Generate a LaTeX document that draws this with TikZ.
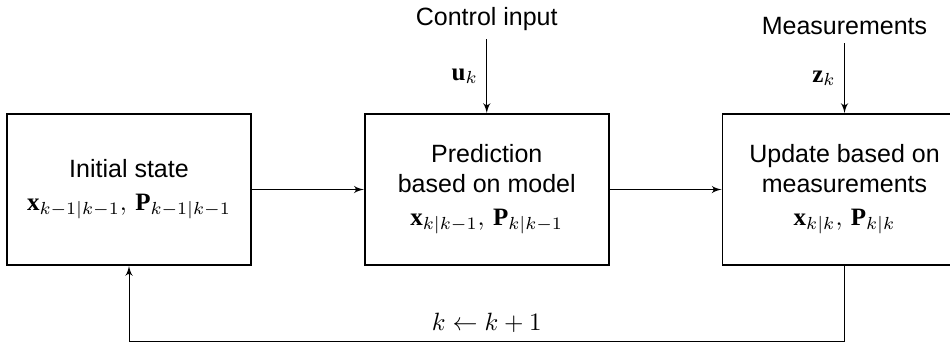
\documentclass[tikz,border=0pt]{standalone}
\usepackage{fontspec}
\setmainfont{Liberation Serif}
\setsansfont{Liberation Sans}
\usetikzlibrary{positioning}
\usetikzlibrary{arrows,arrows.meta}
\tikzstyle{block} = [draw, line width=0.7pt, fill=white, rectangle, minimum height=60.4pt, minimum width=97.6pt, align=center, font=\sffamily]
\tikzstyle{input} = [font=\sffamily]
\tikzstyle{coord} = [coordinate]

\begin{document}
\begin{tikzpicture}[auto, >=latex', x=0.4pt, y=-0.4pt, node distance=44.8pt, line width=0.4pt]
	\clip (0,0) rectangle (950,343);
	\node [block] (init) at (129,189.5)
	{Initial state\\[1pt] $\mathbf{x}_{k-1|k-1},\,\mathbf{P}_{k-1|k-1}$};
	\node [block, right=of init] (predict)
	{Prediction\\ based on model\\[1pt] $\mathbf{x}_{k|k-1},\,\mathbf{P}_{k|k-1}$};
	\node [block, right=of predict] (update)
	{Update based on\\ measurements\\[1pt] $\mathbf{x}_{k|k},\,\mathbf{P}_{k|k}$};

	\node [input, node distance=29.6pt, above=of predict] (ctrl) {Control input};
	\node [input, node distance=28pt, above=of update] (meas) {Measurements};
	\node [coord, node distance=30.4pt, below=of update] (fb) {};

	\draw [->] (init) -- (predict);
	\draw [->] (predict) -- (update);
	\draw [->] (ctrl) -- node [left] {$\mathbf{u}_k$} (predict);
	\draw [->] (meas) -- node [left] {$\mathbf{z}_k$} (update);
	\draw [->] (update) -- (fb) -| node [pos=0.25, above] {$k \leftarrow k+1$} (init);

\end{tikzpicture}
\end{document}
